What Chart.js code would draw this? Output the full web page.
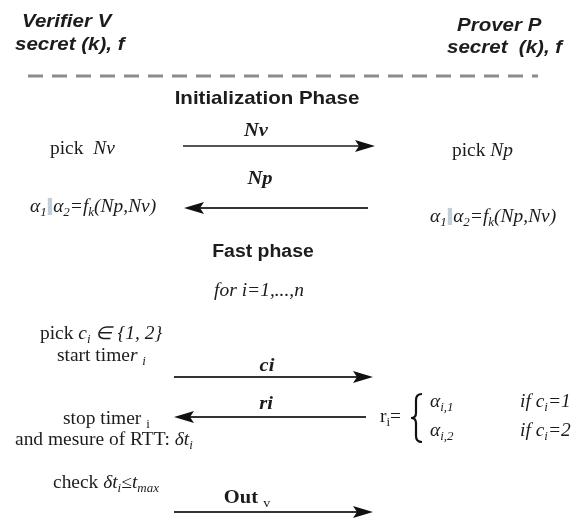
<!DOCTYPE html>
<html>
<head>
<meta charset="utf-8">
<script src="https://cdn.jsdelivr.net/npm/chart.js@4"></script>
<style>
  html, body { margin: 0; background: #fff; }
  canvas { display: block; }
</style>
</head>
<body>
<canvas id="diagram" width="583" height="518"></canvas>
<script>
// 参加者とメッセージ（マークアップ: *斜体*  _下付き斜体_  ~下付き~  #太字#  ! は区切り棒）
const headingText = ['Verifier V', 'secret (k), f', 'Prover P', 'secret  (k), f'];
const phaseText = ['Initialization Phase', 'Fast phase'];
const msgLabels = ['#*Nv*#', '#*Np*#', '#*ci*#', '#*ri*#', '#Out# ~v~'];
const msgFromX = [183, 368, 174, 366, 174];
const msgToX = [375, 184, 373, 174, 373];
const msgY = [146, 208, 377, 417, 512];
const stepText = [
  'pick  *Nv*',
  'pick *Np*',
  '*α*_1_!*α*_2_*=f*_k_*(Np,Nv)*',
  '*α*_1_!*α*_2_*=f*_k_*(Np,Nv)*',
  '*for i=1,...,n*',
  'pick *c*_i_ *∈ {1, 2}*',
  'start time*r* _i_',
  'stop timer ~i~',
  'and mesure of RTT: *δt*_i_',
  'check *δt*_i_*≤t*_max_',
  'r~i~=',
  '*α*_i,1_',
  '*α*_i,2_',
  '*if c*_i_*=1*',
  '*if c*_i_*=2*'
];

// レイアウト（位置は座標系の値）
const headingPos = [[22, 21], [15, 44], [457, 25], [447, 47]];
const phasePos = [[267, 98], [263, 251]];
const msgLabelPos = [[256, 130], [260, 178], [267, 365], [266, 403], [247, 497]];
const stepPos = [
  [50, 148], [452, 150], [30, 206], [430, 216], [259, 290, 'center'],
  [40, 333], [57, 355], [63, 418], [15, 439], [53, 482],
  [380, 416], [430, 401], [430, 430], [520, 401], [520, 430]
];
const dashY = 76;
const dashX = [28, 538];

const SX = 1.08;
const SERIF = '"Liberation Serif", "Times New Roman", serif';
const SANS = '"Liberation Sans", Arial, sans-serif';
const INK = '#1c1c1c';

// マークアップを分解
function parse(s) {
  const segs = [];
  const st = { i: false, sub: false, rsub: false, b: false };
  let buf = '';
  const flush = () => {
    if (buf) segs.push({ t: buf, i: st.i || st.sub, sub: st.sub || st.rsub, b: st.b });
    buf = '';
  };
  for (const ch of s) {
    if (ch === '*') { flush(); st.i = !st.i; }
    else if (ch === '_') { flush(); st.sub = !st.sub; }
    else if (ch === '~') { flush(); st.rsub = !st.rsub; }
    else if (ch === '#') { flush(); st.b = !st.b; }
    else if (ch === '!') { flush(); segs.push({ bar: true }); }
    else buf += ch;
  }
  flush();
  return segs;
}

function fontOf(seg, size, family) {
  const sz = seg.sub ? Math.round(size * 0.66) : size;
  return (seg.i ? 'italic ' : '') + (seg.b ? 'bold ' : '') + sz + 'px ' + family;
}

function drawRich(ctx, text, x, yc, size, family, align) {
  const segs = parse(text);
  let w = 0;
  segs.forEach(sg => {
    if (sg.bar) { sg.w = 6; }
    else { ctx.font = fontOf(sg, size, family); sg.w = ctx.measureText(sg.t).width; }
    w += sg.w;
  });
  const base = yc + size * 0.33;
  let x0 = align === 'center' ? x - w * SX / 2 : x;
  ctx.save();
  ctx.translate(x0, 0);
  ctx.scale(SX, 1);
  let cx = 0;
  segs.forEach(sg => {
    if (sg.bar) {
      ctx.fillStyle = '#c3cedb';
      ctx.fillRect(cx + 1, base - size * 0.78, 4, size * 0.95);
    } else {
      ctx.font = fontOf(sg, size, family);
      ctx.fillStyle = INK;
      ctx.fillText(sg.t, cx, sg.sub ? base + size * 0.2 : base);
    }
    cx += sg.w;
  });
  ctx.restore();
}

const diagramPlugin = {
  id: 'diagram',
  afterDatasetsDraw(chart) {
    const ctx = chart.ctx;
    const sx = chart.scales.x, sy = chart.scales.y;

    // 矢印の先端
    msgToX.forEach((tx, i) => {
      const px = sx.getPixelForValue(tx);
      const py = sy.getPixelForValue(msgY[i]);
      const dir = tx > msgFromX[i] ? 1 : -1;
      ctx.save();
      ctx.fillStyle = '#111';
      ctx.beginPath();
      ctx.moveTo(px, py);
      ctx.lineTo(px - dir * 20, py - 6);
      ctx.lineTo(px - dir * 16, py);
      ctx.lineTo(px - dir * 20, py + 6);
      ctx.closePath();
      ctx.fill();
      ctx.restore();
    });

    ctx.save();
    ctx.textBaseline = 'alphabetic';
    headingText.forEach((t, i) => {
      drawRich(ctx, '#*' + t + '*#', sx.getPixelForValue(headingPos[i][0]), sy.getPixelForValue(headingPos[i][1]), 19, SANS, 'left');
    });
    phaseText.forEach((t, i) => {
      drawRich(ctx, '#' + t + '#', sx.getPixelForValue(phasePos[i][0]), sy.getPixelForValue(phasePos[i][1]), i === 0 ? 19 : 18, SANS, 'center');
    });
    msgLabels.forEach((t, i) => {
      drawRich(ctx, t, sx.getPixelForValue(msgLabelPos[i][0]), sy.getPixelForValue(msgLabelPos[i][1]), 19, SERIF, 'center');
    });
    stepText.forEach((t, i) => {
      const p = stepPos[i];
      drawRich(ctx, t, sx.getPixelForValue(p[0]), sy.getPixelForValue(p[1]), 18, SERIF, p[2] || 'left');
    });

    // r_i の波括弧
    const bx = sx.getPixelForValue(416), top = sy.getPixelForValue(394), bot = sy.getPixelForValue(442);
    const mid = (top + bot) / 2;
    ctx.strokeStyle = '#111';
    ctx.lineWidth = 2.2;
    ctx.beginPath();
    ctx.moveTo(bx + 6, top);
    ctx.quadraticCurveTo(bx, top, bx, top + 6);
    ctx.lineTo(bx, mid - 5);
    ctx.quadraticCurveTo(bx, mid, bx - 5, mid);
    ctx.quadraticCurveTo(bx, mid, bx, mid + 5);
    ctx.lineTo(bx, bot - 6);
    ctx.quadraticCurveTo(bx, bot, bx + 6, bot);
    ctx.stroke();
    ctx.restore();
  }
};

const datasets = [{
  data: [{ x: dashX[0], y: dashY }, { x: dashX[1], y: dashY }],
  showLine: true,
  borderColor: '#8c8c8c',
  borderWidth: 3,
  borderDash: [15, 9],
  pointRadius: 0
}];
msgFromX.forEach((fx, i) => {
  datasets.push({
    data: [{ x: fx, y: msgY[i] }, { x: msgToX[i] - (msgToX[i] > fx ? 14 : -14), y: msgY[i] }],
    showLine: true,
    borderColor: i === 0 ? '#555' : '#333',
    borderWidth: 2,
    pointRadius: 0
  });
});

new Chart(document.getElementById('diagram'), {
  type: 'scatter',
  data: { datasets },
  options: {
    responsive: false,
    animation: false,
    events: [],
    layout: { padding: 0 },
    plugins: { legend: { display: false }, tooltip: { enabled: false } },
    scales: {
      x: { type: 'linear', display: false, min: 0, max: 583 },
      y: { type: 'linear', display: false, min: 0, max: 518, reverse: true }
    }
  },
  plugins: [diagramPlugin]
});
</script>
</body>
</html>
